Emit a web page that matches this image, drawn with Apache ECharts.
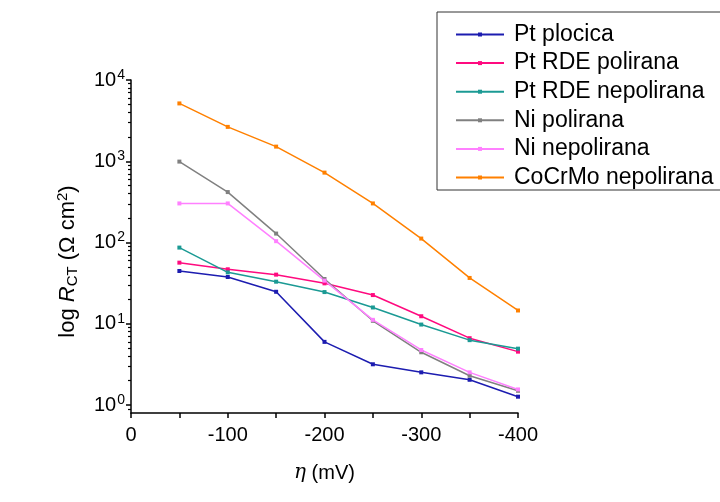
<!DOCTYPE html>
<html><head><meta charset="utf-8">
<script src="https://cdn.jsdelivr.net/npm/echarts@6/dist/echarts.min.js"></script>
<style>html,body{margin:0;padding:0;background:#fff}#c{width:720px;height:502px}</style>
</head><body><div id="c"></div>
<script>
const eta = [-50, -100, -150, -200, -250, -300, -350, -400];
const seriesNames = ['Pt plocica', 'Pt RDE polirana', 'Pt RDE nepolirana', 'Ni polirana', 'Ni nepolirana', 'CoCrMo nepolirana'];
const ptPlocica = [44.7, 37.7, 24.8, 6.0, 3.18, 2.53, 2.05, 1.27];
const ptRdePolirana = [56.6, 46.9, 40.3, 31.5, 22.6, 12.4, 6.66, 4.55];
const ptRdeNepolirana = [86.7, 43, 33, 24.6, 15.9, 9.8, 6.3, 4.95];
const niPolirana = [991, 418, 129, 35.6, 10.9, 4.47, 2.30, 1.50];
const niNepolirana = [303, 303, 104, 34, 11.2, 4.77, 2.53, 1.56];
const cocrmoNepolirana = [5150, 2650, 1515, 725, 303, 112, 36.7, 14.6];
const xTicks = [0, -100, -200, -300, -400];
const yMajor = [1, 10, 100, 1000, 10000];
const yMinor = [0.9, 2,3,4,5,6,7,8,9, 20,30,40,50,60,70,80,90, 200,300,400,500,600,700,800,900, 2000,3000,4000,5000,6000,7000,8000,9000];
const colors = ['#1c1cb0', '#ff0a7f', '#1b9a94', '#808080', '#ff80ff', '#ff8000'];
const allData = [ptPlocica, ptRdePolirana, ptRdeNepolirana, niPolirana, niNepolirana, cocrmoNepolirana];

const font = 'Arial, "Liberation Sans", sans-serif';
const chart = echarts.init(document.getElementById('c'));
chart.setOption({
  animation: false,
  backgroundColor: '#fff',
  grid: {left: 131, right: 202, top: 80, bottom: 89},
  legend: {
    orient: 'vertical', left: 437, top: 12,
    padding: [11, 8, 1, 18],
    itemWidth: 48, itemHeight: 5, itemGap: 5.6,
    backgroundColor: '#fff', borderColor: '#333', borderWidth: 1,
    textStyle: {fontSize: 23, color: '#000', fontFamily: font, padding: [0, 0, 0, 5]},
    data: seriesNames
  },
  xAxis: {
    type: 'value', min: -400, max: 0, interval: 100, inverse: true,
    name: '{i|η} (mV)', nameLocation: 'middle', nameGap: 50,
    nameTextStyle: {fontSize: 20, color: '#000', fontFamily: font,
      rich: {i: {fontStyle: 'italic', fontFamily: '"DejaVu Serif", serif', fontSize: 20, color: '#000'}}},
    axisLine: {lineStyle: {color: '#000', width: 1.5}},
    axisTick: {length: 5, lineStyle: {color: '#000', width: 1.5}},
    minorTick: {show: true, splitNumber: 2, length: 5, lineStyle: {color: '#000', width: 1.5}},
    splitLine: {show: false},
    axisLabel: {fontSize: 20, color: '#000', fontFamily: font, margin: 12,
      customValues: xTicks, formatter: v => String(v)}
  },
  yAxis: [{
    type: 'log', logBase: 10, min: 0.8, max: 10000,
    name: 'log {i|R}{s|CT} (Ω cm{p|2})', nameLocation: 'middle', nameGap: 51, nameRotate: 90,
    nameTextStyle: {fontSize: 22, color: '#000', fontFamily: font, padding: [0, 30, 0, 0],
      rich: {
        i: {fontStyle: 'italic', fontSize: 22, fontFamily: font, color: '#000'},
        s: {fontSize: 15, fontFamily: font, color: '#000', verticalAlign: 'bottom', padding: [10, 0, 0, 0]},
        p: {fontSize: 15, fontFamily: font, color: '#000', verticalAlign: 'top', padding: [0, 0, 10, 0]}
      }},
    axisLine: {show: true, lineStyle: {color: '#000', width: 1.5}},
    axisTick: {show: true, length: 5, customValues: yMajor, lineStyle: {color: '#000', width: 1.5}},
    splitLine: {show: false},
    axisLabel: {
      customValues: yMajor, margin: 6,
      formatter: v => '10{p|' + Math.round(Math.log10(v)) + '}',
      fontSize: 20, color: '#000', fontFamily: font,
      rich: {p: {fontSize: 14, fontFamily: font, color: '#000', padding: [0, 0, 10, 1]}}
    }
  }, {
    type: 'log', logBase: 10, min: 0.8, max: 10000, position: 'left',
    axisLine: {show: false},
    axisTick: {show: true, length: 3, customValues: yMinor, lineStyle: {color: '#000', width: 1.2}},
    axisLabel: {show: false},
    splitLine: {show: false}
  }],
  series: seriesNames.map((n, i) => ({
    name: n, type: 'line', yAxisIndex: 0,
    data: eta.map((x, j) => [x, allData[i][j]]),
    symbol: 'rect', symbolSize: 4, showSymbol: true,
    color: colors[i],
    lineStyle: {width: 1.5, color: colors[i]},
    itemStyle: {color: colors[i]}
  }))
});
</script></body></html>
